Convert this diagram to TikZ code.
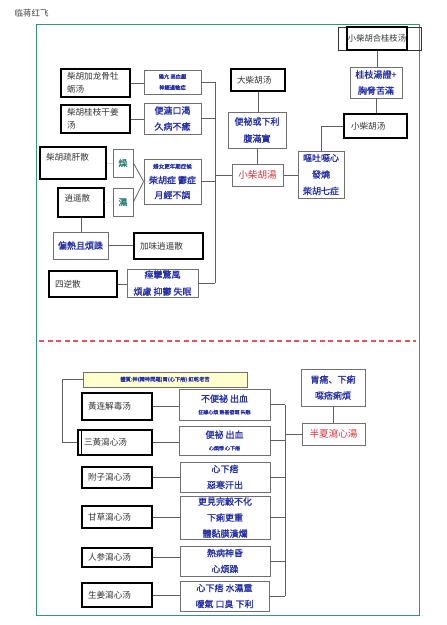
\documentclass[tikz,border=0pt]{standalone}
\usepackage{fontspec}
\usepackage{xcolor}
\usepackage{tikz}
\usetikzlibrary{positioning}
\newfontfamily\cjk{Noto Sans CJK SC}
\newfontfamily\cjkb{Noto Sans CJK SC}[FakeBold=1.3]
\definecolor{HerbBlue}{RGB}{38,48,168}
\definecolor{HerbRed}{RGB}{222,52,62}
\definecolor{HerbTeal}{RGB}{40,128,122}
\definecolor{HerbGreen}{RGB}{52,150,118}
\definecolor{HerbYellow}{RGB}{255,255,206}
\definecolor{LineGray}{RGB}{95,95,95}
\definecolor{BoxGray}{RGB}{112,112,112}

\begin{document}
\begin{tikzpicture}[
    x=1pt,y=-1pt,
    link/.style={draw=LineGray, line width=0.8pt},
    fbox/.style={draw=black, line width=1.3pt, fill=white, inner xsep=6pt, inner ysep=0pt, align=left, font=\cjk\fontsize{8.6}{13}\selectfont, text=black!80},
    sign/.style={draw=BoxGray, line width=0.8pt, fill=white, inner sep=0pt, align=center, font=\cjkb\fontsize{9}{16}\selectfont, text=HerbBlue},
    dry/.style={sign, text=HerbTeal},
    core/.style={sign, text=HerbRed, font=\cjk\fontsize{9.6}{12}\selectfont},
    tiny/.style={font=\cjkb\fontsize{5.3}{11}\selectfont}
  ]
    \useasboundingbox (0,0) rectangle (447,625);
    \node[anchor=west, font=\cjk\fontsize{8.5}{10}\selectfont, text=black!75] (author) at (11,13) {临蒋红飞};
    \draw[draw=HerbGreen, line width=1pt] (36,24) rectangle (419,615);

    % upper half
    \draw[draw=black!80, line width=1pt] (338,27) rectangle (421,50);
    \node[fbox, align=center, inner xsep=0pt, minimum width=60pt, minimum height=23pt, font=\cjk\fontsize{8.3}{10}\selectfont] (hegz) at (377,38.5) {小柴胡合桂枝汤};
    \node[sign, minimum width=52pt, minimum height=31pt, font=\cjkb\fontsize{9}{16}\selectfont] (gzz) at (376,82.5) {桂枝湯證+\\胸脅苦滿};
    \node[fbox, text width=49pt, inner xsep=7pt, minimum height=24pt] (xch) at (375.5,126) {小柴胡汤};
    \node[sign, minimum width=46pt, minimum height=47pt, font=\cjkb\fontsize{9}{16.5}\selectfont] (ot) at (321,174.5) {嘔吐噁心\\發燒\\柴胡七症};
    \node[fbox, text width=42pt, minimum height=22pt] (dch) at (258,80) {大柴胡汤};
    \node[sign, minimum width=58pt, minimum height=36pt, font=\cjkb\fontsize{9}{17}\selectfont] (bm) at (257,130) {便祕或下利\\腹滿實};
    \node[core, minimum width=51pt, minimum height=22pt] (xchr) at (257.5,175) {小柴胡湯};

    \node[fbox, text width=57pt, minimum height=28pt] (lg) at (95.5,83) {柴胡加龙骨牡\\蛎汤};
    \node[sign, tiny, minimum width=57pt, minimum height=24pt] (lgs) at (172.5,82) {陽亢 高血壓\\神經過敏症};
    \node[fbox, text width=57pt, minimum height=28pt] (gj) at (95.5,119) {柴胡桂枝干姜\\汤};
    \node[sign, minimum width=57pt, minimum height=31pt] (bt) at (172.5,118.5) {便溏口渴\\久病不癒};
    \node[fbox, text width=54pt, minimum height=32pt] (sg) at (73,163) {柴胡疏肝散\\~};
    \node[dry, minimum width=20pt, minimum height=28pt] (zao) at (123,163) {燥};
    \node[dry, minimum width=20pt, minimum height=28pt] (shi) at (123,202) {濕};
    \node[fbox, text width=33pt, inner xsep=6.5pt, minimum height=29pt, font=\cjk\fontsize{8.6}{9}\selectfont] (xy) at (81,202.5) {逍遥散\\~};
    \node[sign, minimum width=57pt, minimum height=45pt, font=\cjkb\fontsize{9}{15}\selectfont] (cz) at (172.5,181.5) {{\fontsize{5.5}{7}\selectfont 婦女更年期症候}\\柴胡症 鬱症\\月經不調};
    \node[sign, minimum width=55pt, minimum height=27pt] (pr) at (80.5,245.5) {偏熱且煩躁};
    \node[fbox, text width=57pt, minimum height=26pt] (jw) at (168.5,246) {加味逍遥散};
    \node[fbox, text width=56pt, minimum height=26pt] (sn) at (83,284) {四逆散};
    \node[sign, minimum width=71pt, minimum height=28pt, font=\cjkb\fontsize{9}{17}\selectfont] (jl) at (162.5,283) {痙攣驚風\\煩慮 抑鬱 失眠};

    \coordinate (busL) at (215,0);
    \draw[link] (hegz.south) -- (hegz.south |- gzz.north);
    \draw[link] (gzz.south) -- (gzz.south |- xch.north);
    \draw[link] (xch.west) -| (ot.north);
    \draw[link] (xchr.east) -- (xchr.east -| ot.west);
    \draw[link] (dch.south) -- (dch.south |- bm.north);
    \draw[link] (bm.south) -- (bm.south |- xchr.north);
    \draw[link] (lg.east) -- (lg.east -| lgs.west);
    \draw[link] (gj.east) -- (gj.east -| bt.west);
    \draw[draw=black!15, line width=0.6pt] (sg.east) -- (zao.west);
    \draw[draw=black!15, line width=0.6pt] (xy.east) -- (shi.west);
    \draw[link] (zao.east) -- (cz.west);
    \draw[link] (shi.east) -- (cz.west);
    \draw[link] (xy.south) -- (xy.south |- pr.north);
    \draw[link] (pr.east) -- (pr.east -| jw.west);
    \draw[link] (sn.east) -- (sn.east -| jl.west);
    \foreach \s in {lgs,bt,cz,jl} {\draw[link] (\s.east) -- (\s.east -| busL);}
    \draw[link] (lgs.east -| busL) -- (jl.east -| busL);
    \draw[link] (xchr.west) -- (xchr.west -| busL);

    % dividing line
    \draw[draw=HerbRed!85, line width=1.1pt, dash pattern=on 5pt off 3.5pt] (39,341) -- (416,341);

    % lower half
    \node[sign, tiny, fill=HerbYellow, minimum width=164pt, minimum height=15pt] (tz) at (165,379.5) {體質:神(精神問題)胃(心下痞) 紅乾老苦};
    \foreach \n/\y/\h/\name in {hl/406.5/27/黃连解毒汤, fz/477.5/21/附子瀉心汤, gc/517/22/甘草瀉心汤, rs/557.5/19/人参瀉心汤, sj/595/24/生姜瀉心汤} {
      \node[fbox, text width=58pt, minimum height=\h pt] (\n) at (117,\y) {\name};
    }
    \node[fbox, text width=62pt, minimum height=25pt] (sh) at (115,442.5) {三黃瀉心汤};
    \draw[draw=black, line width=0.7pt] ([xshift=4pt]sh.north west) -- ([xshift=4pt]sh.south west);

    \node[sign, minimum width=91pt, minimum height=31pt, font=\cjkb\fontsize{9}{12}\selectfont] (hls) at (224.5,404.5) {不便祕 出血\\{\fontsize{5}{6}\selectfont 狂躁心煩 熱甚發斑 失眠}};
    \node[sign, minimum width=91pt, minimum height=29pt, font=\cjkb\fontsize{9}{12}\selectfont] (shs) at (224.5,440.5) {便祕 出血\\{\fontsize{5}{6}\selectfont 心煩悸 心下痞}};
    \node[sign, minimum width=90pt, minimum height=30pt] (fzs) at (225,477) {心下痞\\惡寒汗出};
    \node[sign, minimum width=90pt, minimum height=43pt] (gcs) at (225,517.5) {更見完穀不化\\下痢更重\\體黏膜潰爛};
    \node[sign, minimum width=90pt, minimum height=30pt] (rss) at (225,561) {熱病神昏\\心煩躁};
    \node[sign, minimum width=89pt, minimum height=30pt] (sjs) at (224.5,596) {心下痞 水濕重\\噯氣 口臭 下利};
    \node[sign, minimum width=64pt, minimum height=37pt] (wt) at (333,387.5) {胃痛、下痢\\噁痞痢煩};
    \node[core, minimum width=63pt, minimum height=22pt] (bx) at (333.5,434) {半夏瀉心湯};

    \coordinate (brk) at (62,0);
    \coordinate (busR) at (285,0);
    \draw[link] (tz.west) -- (tz.west -| brk) -- (sh.west -| brk) -- (sh.west);
    \foreach \p/\q in {hl/hls,sh/shs,fz/fzs,gc/gcs,rs/rss,sj/sjs} {
      \draw[link] (\p.east) -- (\p.east -| \q.west);
      \draw[link] (\q.east) -- (\q.east -| busR);
    }
    \draw[link] (hls.east -| busR) -- (sjs.east -| busR);
    \draw[link] (bx.west -| busR) -- (bx.west);
    \draw[link] (wt.south) -- (wt.south |- bx.north);
  \end{tikzpicture}
\end{document}
